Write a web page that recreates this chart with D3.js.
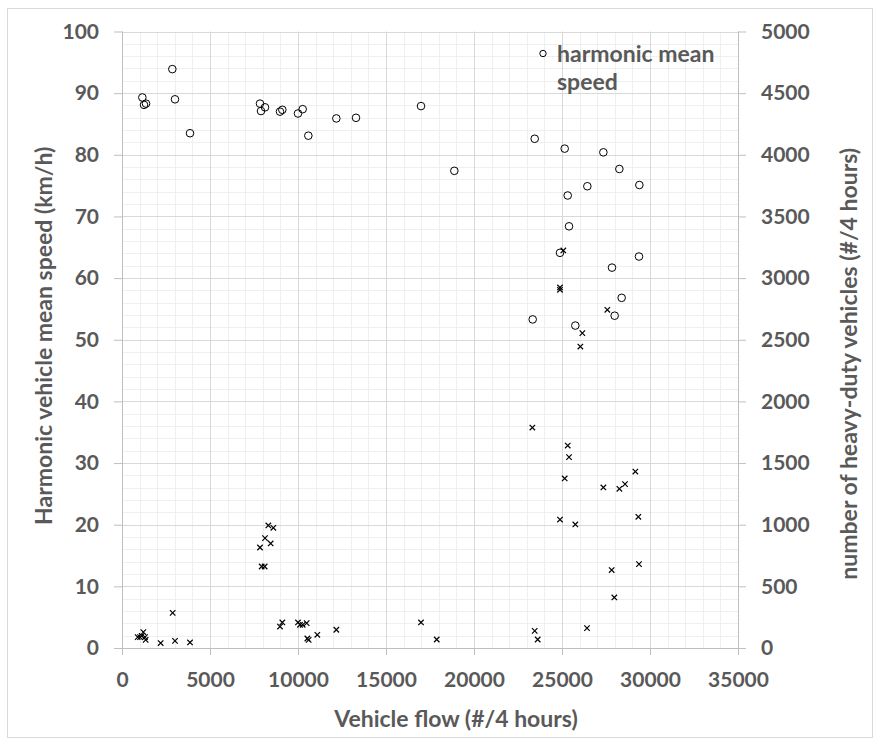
<!DOCTYPE html>
<html>
<head>
<meta charset="utf-8">
<script src="https://cdn.jsdelivr.net/npm/d3@7"></script>
<style>
  html, body { margin: 0; padding: 0; background: #ffffff; }
  svg { display: block; }
  text { font-family: Lato, "Open Sans", sans-serif; font-weight: 700; fill: #595959; }
</style>
</head>
<body>
<svg id="chart" width="880" height="745"></svg>
<script>
// ---- data ----
const xTicks = [0, 5000, 10000, 15000, 20000, 25000, 30000, 35000];
const leftTicks = [0, 10, 20, 30, 40, 50, 60, 70, 80, 90, 100];
const rightTicks = [0, 500, 1000, 1500, 2000, 2500, 3000, 3500, 4000, 4500, 5000];

const xTitle = "Vehicle flow (#/4 hours)";
const leftTitle = "Harmonic vehicle mean speed (km/h)";
const rightTitle = "number of heavy-duty vehicles (#/4 hours)";
const legendLines = ["harmonic mean", "speed"];

// harmonic mean speed (left axis)
const speedFlow = [1155, 1250, 1364, 2860, 3011, 3864, 7841, 7898, 8125, 8977, 9110, 10000, 10266, 10587,
  12178, 13296, 16989, 18883, 23449, 25153, 27350, 28259, 29395, 26440, 25325, 25399, 24886, 29375,
  27841, 28390, 27992, 23335, 25757];
const speedValue = [89.3, 88.1, 88.3, 93.9, 89.0, 83.5, 88.3, 87.1, 87.7, 87.0, 87.3, 86.7, 87.4, 83.1,
  85.9, 86.0, 87.9, 77.4, 82.6, 81.0, 80.4, 77.7, 75.1, 74.9, 73.4, 68.4, 64.1, 63.5,
  61.7, 56.8, 53.9, 53.3, 52.3];

// number of heavy-duty vehicles (right axis)
const heavyFlow = [890, 1023, 1212, 1117, 1307, 1345, 2197, 2879, 3011, 3864,
  7841, 7935, 8106, 8125, 8314, 8599, 8447, 8977, 9110, 10000, 10114, 10266, 10493, 10531, 10606,
  11098, 12178, 16989, 17881, 23316, 23449, 23619, 24886, 24886, 24886, 25075, 25153, 25325, 25399,
  25757, 26042, 26156, 26421, 27350, 27576, 27822, 27973, 28259, 28580, 29167, 29338, 29375];
const heavyValue = [88, 88, 129, 99, 88, 66, 40, 285, 58, 45,
  815, 661, 661, 891, 994, 975, 848, 174, 207, 207, 188, 188, 202, 77, 66,
  107, 148, 207, 69, 1788, 139, 69, 2924, 2905, 1042, 3224, 1375, 1642, 1548,
  1002, 2445, 2554, 161, 1302, 2743, 632, 410, 1291, 1329, 1431, 1064, 680];

// ---- chart ----
const svg = d3.select("#chart");
const L = 122, R = 738, T = 31.5, B = 648;

const x = d3.scaleLinear().domain([0, 35000]).range([L, R]);
const yL = d3.scaleLinear().domain([0, 100]).range([B, T]);
const yR = d3.scaleLinear().domain([0, 5000]).range([B, T]);

// outer border
svg.append("rect").attr("x", 7.5).attr("y", 8.5).attr("width", 865).attr("height", 729)
  .attr("fill", "#fff").attr("stroke", "#d9d9d9").attr("stroke-width", 1);

// minor gridlines
const g = svg.append("g");
const minorX = d3.range(0, 35001, 1000).filter(v => v % 5000 !== 0);
const minorY = d3.range(0, 100.1, 2).filter(v => v % 10 !== 0);
g.selectAll(".mx").data(minorX).join("line")
  .attr("x1", d => Math.round(x(d)) + 0.5).attr("x2", d => Math.round(x(d)) + 0.5)
  .attr("y1", T).attr("y2", B).attr("stroke", "#efefef");
g.selectAll(".my").data(minorY).join("line")
  .attr("y1", d => Math.round(yL(d)) + 0.5).attr("y2", d => Math.round(yL(d)) + 0.5)
  .attr("x1", L).attr("x2", R).attr("stroke", "#efefef");

// major gridlines
g.selectAll(".Mx").data(xTicks).join("line")
  .attr("x1", d => Math.round(x(d)) + 0.5).attr("x2", d => Math.round(x(d)) + 0.5)
  .attr("y1", T).attr("y2", B).attr("stroke", "#d9d9d9");
g.selectAll(".My").data(leftTicks).join("line")
  .attr("y1", d => Math.round(yL(d)) + 0.5).attr("y2", d => Math.round(yL(d)) + 0.5)
  .attr("x1", L).attr("x2", R).attr("stroke", "#d9d9d9");

// axes
const axisStyle = sel => {
  sel.select(".domain").remove();
  sel.selectAll(".tick line").attr("stroke", "#bfbfbf");
  sel.selectAll(".tick text").style("font-size", "21px").attr("fill", "#595959");
};
svg.append("g").attr("transform", `translate(0,${B})`)
  .call(d3.axisBottom(x).tickValues(xTicks).tickFormat(d3.format("d")).tickSize(7).tickPadding(17))
  .call(axisStyle);
svg.append("g").attr("transform", `translate(${L},0)`)
  .call(d3.axisLeft(yL).tickValues(leftTicks).tickFormat(d3.format("d")).tickSize(8).tickPadding(15))
  .call(axisStyle);
svg.append("g").attr("transform", `translate(${R},0)`)
  .call(d3.axisRight(yR).tickValues(rightTicks).tickFormat(d3.format("d")).tickSize(8).tickPadding(15))
  .call(axisStyle);

// axis lines
svg.append("line").attr("x1", L + 0.5).attr("x2", L + 0.5).attr("y1", T).attr("y2", B + 7).attr("stroke", "#bfbfbf");
svg.append("line").attr("x1", R + 0.5).attr("x2", R + 0.5).attr("y1", T).attr("y2", B + 7).attr("stroke", "#bfbfbf");
svg.append("line").attr("x1", L).attr("x2", R).attr("y1", B + 0.5).attr("y2", B + 0.5).attr("stroke", "#bfbfbf");

// titles
svg.append("text").attr("x", 456).attr("y", 727).attr("text-anchor", "middle")
  .style("font-size", "23px").text(xTitle);
svg.append("text").attr("transform", `translate(52,${(T + B) / 2 - 4}) rotate(-90)`).attr("text-anchor", "middle")
  .style("font-size", "23px").text(leftTitle);
svg.append("text").attr("transform", `translate(857,${(T + B) / 2 + 24}) rotate(-90)`).attr("text-anchor", "middle")
  .style("font-size", "23px").text(rightTitle);

// crosses
const cross = d3.symbol().type(d3.symbolX).size(21);
svg.append("g").selectAll("path").data(d3.range(heavyFlow.length)).join("path")
  .attr("transform", i => `translate(${x(heavyFlow[i])},${yR(heavyValue[i])})`)
  .attr("d", cross).attr("fill", "none").attr("stroke", "#000").attr("stroke-width", 1.2);

// circles
svg.append("g").selectAll("circle").data(d3.range(speedFlow.length)).join("circle")
  .attr("cx", i => x(speedFlow[i])).attr("cy", i => yL(speedValue[i]))
  .attr("r", 3.8).attr("fill", "none").attr("stroke", "#000").attr("stroke-width", 1);

// legend
svg.append("circle").attr("cx", 543).attr("cy", 53.5).attr("r", 3.2)
  .attr("fill", "none").attr("stroke", "#000").attr("stroke-width", 1);
svg.append("text").attr("x", 557).attr("y", 62).style("font-size", "23px")
  .selectAll("tspan").data(legendLines).join("tspan")
  .attr("x", 557).attr("dy", (d, i) => i === 0 ? 0 : 28).text(d => d);
</script>
</body>
</html>
